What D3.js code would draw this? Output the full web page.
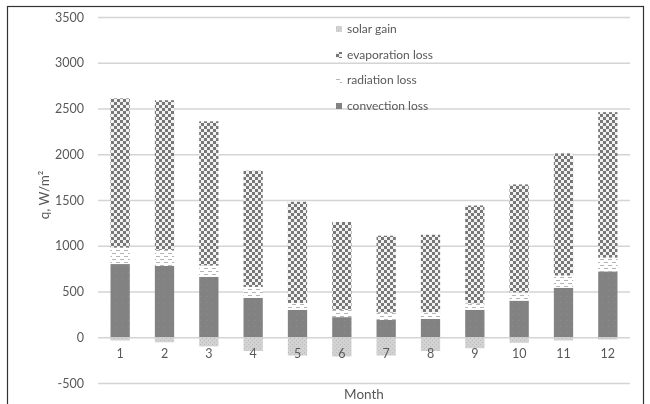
<!DOCTYPE html>
<html>
<head>
<meta charset="utf-8">
<script src="https://cdn.jsdelivr.net/npm/d3@7"></script>
<style>
  html, body { margin: 0; padding: 0; background: #fff; }
  svg { display: block; }
  text { font-family: Lato, "Open Sans", sans-serif; fill: #595959; }
</style>
</head>
<body>
<script>
// Monthly heat balance components, W/m²
const months = ["1","2","3","4","5","6","7","8","9","10","11","12"];
const convectionLoss  = [800, 780, 660, 430, 300, 220, 190, 200, 300, 400, 540, 720];
const radiationLoss   = [180, 175, 125, 120,  75,  80,  80,  75,  70,  90, 135, 150];
const evaporationLoss = [1630, 1635, 1575, 1270, 1105, 960, 840, 845, 1070, 1180, 1335, 1590];
const solarGain       = [-35, -55, -100, -150, -200, -210, -200, -150, -120, -60, -35, -25];
const yTicks = [-500, 0, 500, 1000, 1500, 2000, 2500, 3000, 3500];

const seriesKeys = ["convection", "radiation", "evaporation", "solar"];
const legendNames = {
  solar: "solar gain",
  evaporation: "evaporation loss",
  radiation: "radiation loss",
  convection: "convection loss"
};

const rows = months.map((m, i) => ({
  month: m,
  convection: convectionLoss[i],
  radiation: radiationLoss[i],
  evaporation: evaporationLoss[i],
  solar: solarGain[i]
}));

const W = 650, H = 404;
const svg = d3.select("body").append("svg").attr("width", W).attr("height", H);
const defs = svg.append("defs");

// slight softness over the whole drawing
defs.append("filter").attr("id", "soft")
  .append("feGaussianBlur").attr("stdDeviation", 0.45);

// fill patterns
const pConv = defs.append("pattern").attr("id", "p-convection")
  .attr("patternUnits", "userSpaceOnUse").attr("width", 6).attr("height", 6);
pConv.append("rect").attr("width", 6).attr("height", 6).attr("fill", "#828282");
pConv.append("rect").attr("x", 2).attr("y", 2).attr("width", 1).attr("height", 1).attr("fill", "#8f8f8f");

const pRad = defs.append("pattern").attr("id", "p-radiation")
  .attr("patternUnits", "userSpaceOnUse").attr("width", 8).attr("height", 6);
pRad.append("rect").attr("width", 8).attr("height", 6).attr("fill", "#ffffff");
pRad.append("rect").attr("x", 0).attr("y", 1).attr("width", 4).attr("height", 1).attr("fill", "#b5b5b5");
pRad.append("rect").attr("x", 4).attr("y", 4).attr("width", 4).attr("height", 1).attr("fill", "#b5b5b5");

const pEvap = defs.append("pattern").attr("id", "p-evaporation")
  .attr("patternUnits", "userSpaceOnUse").attr("width", 6).attr("height", 6);
pEvap.append("rect").attr("width", 6).attr("height", 6).attr("fill", "#f2f2f2");
pEvap.append("rect").attr("x", 0).attr("y", 0).attr("width", 3).attr("height", 3).attr("fill", "#777777");
pEvap.append("rect").attr("x", 3).attr("y", 3).attr("width", 3).attr("height", 3).attr("fill", "#777777");

const pSolar = defs.append("pattern").attr("id", "p-solar")
  .attr("patternUnits", "userSpaceOnUse").attr("width", 4).attr("height", 4);
pSolar.append("rect").attr("width", 4).attr("height", 4).attr("fill", "#d2d2d2");
pSolar.append("rect").attr("x", 0).attr("y", 0).attr("width", 1).attr("height", 1).attr("fill", "#bbbbbb");
pSolar.append("rect").attr("x", 2).attr("y", 2).attr("width", 1).attr("height", 1).attr("fill", "#bbbbbb");

const fills = {
  convection: "url(#p-convection)",
  radiation: "url(#p-radiation)",
  evaporation: "url(#p-evaporation)",
  solar: "url(#p-solar)"
};

const g = svg.append("g").attr("filter", "url(#soft)");

// outer frame
g.append("rect").attr("x", 7.5).attr("y", 6.5).attr("width", 636).attr("height", 410)
  .attr("fill", "none").attr("stroke", "#333").attr("stroke-width", 1.2);

const plot = { left: 98, right: 630, top: 17, bottom: 383 };

const x = d3.scaleBand().domain(months)
  .range([plot.left, plot.right]).paddingInner(0.565).paddingOuter(0.2825);
const y = d3.scaleLinear().domain([-500, 3500]).range([plot.bottom, plot.top]);

// gridlines and value labels (plain hyphen for negatives)
const yAxis = d3.axisLeft(y).tickValues(yTicks)
  .tickSize(-(plot.right - plot.left)).tickPadding(14).tickFormat(d => String(d));
const ya = g.append("g").attr("transform", `translate(${plot.left},0)`).call(yAxis);
ya.select(".domain").remove();
ya.selectAll(".tick line").attr("stroke", "#d4d4d4").attr("stroke-width", 1.3);
ya.selectAll(".tick text").attr("font-size", 12.5).attr("fill", "#595959");

// stacked bars
const stack = d3.stack().keys(seriesKeys).offset(d3.stackOffsetDiverging);
const layers = stack(rows);

g.selectAll("g.layer").data(layers).join("g")
  .attr("class", "layer")
  .attr("fill", d => fills[d.key])
  .selectAll("rect").data(d => d).join("rect")
  .attr("x", d => x(d.data.month))
  .attr("width", x.bandwidth())
  .attr("y", d => y(Math.max(d[0], d[1])))
  .attr("height", d => Math.abs(y(d[0]) - y(d[1])));

// category labels sit next to the zero line
const xAxis = d3.axisBottom(x).tickSize(0).tickPadding(12);
const xa = g.append("g").attr("transform", `translate(0,${y(0)})`).call(xAxis);
xa.select(".domain").remove();
xa.selectAll(".tick text").attr("font-size", 12.5).attr("fill", "#595959");

// axis titles
g.append("text")
  .attr("x", (plot.left + plot.right) / 2).attr("y", 399)
  .attr("text-anchor", "middle").attr("font-size", 13.5)
  .text("Month");

g.append("text")
  .attr("transform", `translate(49,195) rotate(-90)`)
  .attr("text-anchor", "middle").attr("font-size", 13.5)
  .text("q, W/m²");

// legend
const legendOrder = ["solar", "evaporation", "radiation", "convection"];
const legendY = [29, 55, 80, 106];
const lg = g.append("g");
legendOrder.forEach((k, i) => {
  lg.append("rect").attr("x", 336).attr("y", legendY[i] - 3)
    .attr("width", 6).attr("height", 6).attr("fill", fills[k]);
  lg.append("text").attr("x", 347).attr("y", legendY[i]).attr("dy", "0.35em")
    .attr("font-size", 12).text(legendNames[k]);
});
</script>
</body>
</html>
